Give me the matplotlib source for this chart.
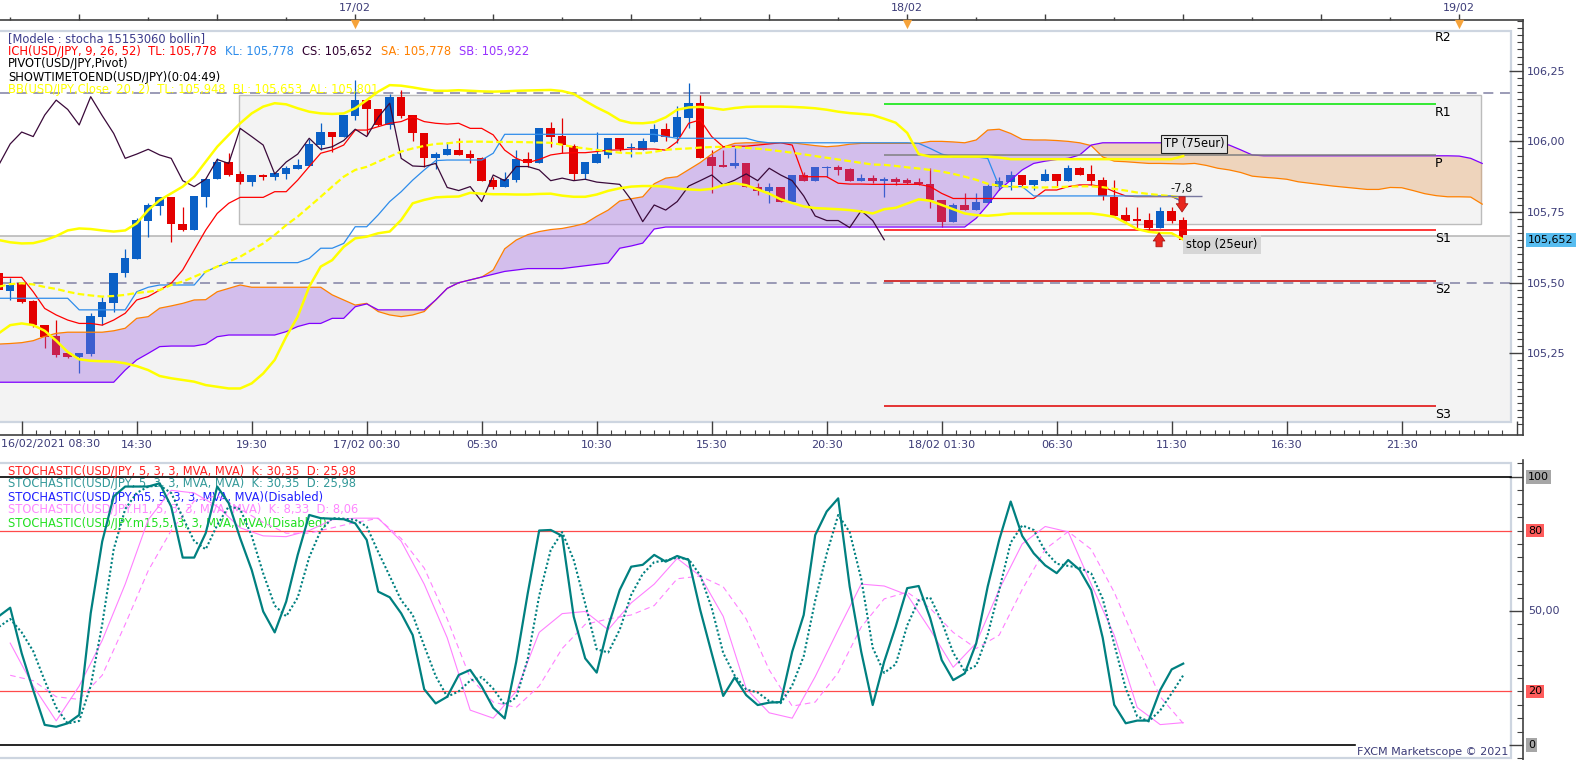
import matplotlib
matplotlib.use("Agg")
import matplotlib.pyplot as plt
from matplotlib.patches import Rectangle
from matplotlib.ticker import FixedLocator, FuncFormatter, NullFormatter
import numpy as np

plt.rcParams["font.family"] = ["DejaVu Sans"]

W, H = 1583, 760

# USD/JPY 30 min bars, 16/02/2021 08:30 -> 18/02/2021 12:00
opens = [105.536, 105.472, 105.498, 105.436, 105.350, 105.313, 105.250, 105.238, 105.247, 105.380,
         105.430, 105.533, 105.585, 105.720, 105.773, 105.803, 105.708, 105.686, 105.804, 105.866,
         105.928, 105.885, 105.857, 105.881, 105.875, 105.885, 105.903, 105.914, 105.988, 106.034,
         106.017, 106.091, 106.146, 106.115, 106.058, 106.158, 106.093, 106.028, 105.940, 105.952,
         105.970, 105.955, 105.941, 105.863, 105.840, 105.863, 105.936, 105.925, 106.046, 106.019,
         105.984, 105.885, 105.925, 105.952, 106.011, 105.975, 105.970, 105.999, 106.043, 106.017,
         106.081, 106.135, 105.944, 105.916, 105.913, 105.922, 105.840, 105.826, 105.837, 105.787,
         105.881, 105.861, 105.906, 105.911, 105.903, 105.861, 105.871, 105.861, 105.867, 105.863,
         105.857, 105.848, 105.793, 105.716, 105.775, 105.757, 105.783, 105.840, 105.857, 105.881,
         105.846, 105.861, 105.885, 105.861, 105.905, 105.885, 105.863, 105.804, 105.740, 105.724,
         105.722, 105.695, 105.755, 105.722]
highs = [105.540, 105.516, 105.500, 105.439, 105.350, 105.368, 105.256, 105.253, 105.392, 105.451,
         105.536, 105.619, 105.730, 105.781, 105.804, 105.803, 105.769, 105.807, 105.869, 105.940,
         105.960, 105.896, 105.880, 105.885, 105.889, 105.913, 105.936, 106.007, 106.066, 106.034,
         106.093, 106.217, 106.146, 106.115, 106.168, 106.182, 106.093, 106.028, 105.964, 105.999,
         106.011, 105.970, 105.945, 105.873, 105.893, 105.970, 105.964, 106.046, 106.070, 106.082,
         105.991, 105.927, 106.034, 106.011, 106.011, 105.995, 106.011, 106.061, 106.064, 106.125,
         106.208, 106.164, 105.970, 105.970, 105.975, 105.922, 105.852, 105.852, 105.837, 105.881,
         105.893, 105.911, 105.913, 105.916, 105.906, 105.885, 105.881, 105.873, 105.873, 105.869,
         105.869, 105.905, 105.793, 105.781, 105.816, 105.816, 105.849, 105.873, 105.895, 105.881,
         105.863, 105.902, 105.885, 105.916, 105.911, 105.916, 105.873, 105.863, 105.767, 105.767,
         105.748, 105.767, 105.769, 105.734]
lows = [105.470, 105.439, 105.427, 105.345, 105.268, 105.238, 105.233, 105.179, 105.242, 105.350,
        105.398, 105.521, 105.585, 105.663, 105.740, 105.645, 105.684, 105.686, 105.767, 105.866,
        105.878, 105.849, 105.842, 105.863, 105.863, 105.867, 105.903, 105.914, 105.970, 105.964,
        106.017, 106.076, 106.023, 106.054, 106.044, 106.081, 106.000, 105.911, 105.901, 105.952,
        105.952, 105.925, 105.861, 105.831, 105.840, 105.857, 105.911, 105.925, 105.979, 105.958,
        105.863, 105.866, 105.925, 105.940, 105.967, 105.944, 105.970, 105.999, 106.003, 105.995,
        106.046, 105.940, 105.819, 105.911, 105.905, 105.837, 105.810, 105.781, 105.787, 105.781,
        105.861, 105.861, 105.875, 105.881, 105.861, 105.861, 105.852, 105.802, 105.847, 105.849,
        105.846, 105.763, 105.698, 105.716, 105.757, 105.757, 105.783, 105.828, 105.828, 105.840,
        105.828, 105.861, 105.842, 105.861, 105.881, 105.846, 105.793, 105.736, 105.720, 105.686,
        105.686, 105.695, 105.712, 105.652]
closes = [105.474, 105.492, 105.433, 105.350, 105.309, 105.244, 105.238, 105.253, 105.382, 105.433,
          105.536, 105.586, 105.722, 105.775, 105.803, 105.707, 105.687, 105.807, 105.867, 105.928,
          105.881, 105.856, 105.880, 105.873, 105.887, 105.906, 105.916, 105.991, 106.033, 106.017,
          106.093, 106.146, 106.113, 106.058, 106.158, 106.091, 106.028, 105.940, 105.955, 105.972,
          105.952, 105.940, 105.861, 105.840, 105.866, 105.936, 105.922, 106.046, 106.017, 105.987,
          105.885, 105.927, 105.955, 106.011, 105.972, 105.981, 106.003, 106.043, 106.017, 106.085,
          106.135, 105.940, 105.913, 105.911, 105.922, 105.837, 105.826, 105.840, 105.787, 105.881,
          105.861, 105.911, 105.911, 105.899, 105.861, 105.870, 105.861, 105.866, 105.856, 105.852,
          105.848, 105.793, 105.716, 105.775, 105.757, 105.787, 105.842, 105.861, 105.881, 105.846,
          105.863, 105.885, 105.861, 105.905, 105.881, 105.861, 105.807, 105.736, 105.720, 105.720,
          105.695, 105.755, 105.720, 105.652]

# Ichimoku (9, 26, 52)
tenkan = [105.519, 105.519, 105.519, 105.468, 105.409, 105.386, 105.368, 105.356, 105.356, 105.350,
          105.368, 105.392, 105.439, 105.451, 105.474, 105.498, 105.545, 105.616, 105.686, 105.745,
          105.781, 105.802, 105.802, 105.802, 105.822, 105.822, 105.863, 105.911, 105.958, 105.969,
          105.987, 106.040, 106.040, 106.052, 106.064, 106.070, 106.087, 106.070, 106.064, 106.061,
          106.064, 106.046, 106.046, 106.023, 105.969, 105.940, 105.925, 105.936, 105.952, 105.958,
          105.960, 105.960, 105.964, 105.969, 105.970, 105.973, 105.973, 105.973, 105.969, 105.999,
          106.064, 106.076, 106.017, 105.981, 105.983, 105.983, 105.987, 105.991, 105.995, 105.987,
          105.875, 105.875, 105.875, 105.852, 105.849, 105.849, 105.848, 105.848, 105.848, 105.848,
          105.848, 105.840, 105.816, 105.798, 105.798, 105.798, 105.798, 105.798, 105.798, 105.798,
          105.798, 105.828, 105.828, 105.840, 105.846, 105.846, 105.840, 105.822, 105.807, 105.805,
          105.805, 105.805, 105.805, 105.786]
kijun = ([105.445] * 7 + [105.404] * 5 + [105.468, 105.484] + [105.492] * 4 + [105.539, 105.557]
         + [105.571] * 7
         + [105.586, 105.622, 105.622, 105.639, 105.698, 105.698, 105.740, 105.787, 105.822, 105.863,
            105.899, 105.932]
         + [105.934] * 4 + [105.958] + [106.025] * 14 + [106.017] + [106.011] * 7 + [106.000]
         + [105.995] * 13 + [105.993, 105.975, 105.955, 105.945, 105.945, 105.945, 105.940]
         + [105.840] * 3 + [105.807] * 13 + [105.785])
senkou_a = [105.283, 105.285, 105.288, 105.295, 105.310, 105.321, 105.325, 105.325, 105.325, 105.325,
            105.330, 105.339, 105.374, 105.380, 105.410, 105.418, 105.427, 105.439, 105.440, 105.468,
            105.480, 105.492, 105.484, 105.484, 105.484, 105.484, 105.484, 105.484, 105.484, 105.457,
            105.439, 105.421, 105.427, 105.398, 105.386, 105.380, 105.386, 105.398, 105.439, 105.480,
            105.500, 105.510, 105.520, 105.545, 105.620, 105.651, 105.670, 105.681, 105.688, 105.692,
            105.700, 105.710, 105.735, 105.757, 105.789, 105.797, 105.804, 105.850, 105.870, 105.875,
            105.900, 105.925, 105.955, 105.980, 105.993, 105.995, 105.995, 105.995, 105.995, 105.995,
            105.990, 105.985, 105.981, 105.984, 105.990, 105.993, 105.993, 105.993, 105.993, 105.993,
            105.993, 106.000, 106.000, 105.998, 105.995, 106.005, 106.040, 106.043, 106.028, 106.007,
            106.005, 106.005, 106.003, 106.000, 105.995, 105.985, 105.945, 105.930, 105.928, 105.925,
            105.922, 105.922, 105.921, 105.920, 105.922, 105.915, 105.905, 105.899, 105.890, 105.877,
            105.873, 105.870, 105.866, 105.857, 105.852, 105.847, 105.842, 105.838, 105.834, 105.830,
            105.830, 105.837, 105.836, 105.826, 105.815, 105.808, 105.804, 105.804, 105.803, 105.778]
senkou_b = ([105.148] * 11
            + [105.191, 105.227, 105.250, 105.274, 105.276, 105.276, 105.276, 105.283, 105.309]
            + [105.315] * 5 + [105.327, 105.345, 105.356, 105.356, 105.374]
            + [105.374, 105.415, 105.425, 105.404, 105.404, 105.404, 105.404, 105.404, 105.439, 105.480]
            + [105.500, 105.510, 105.520, 105.530, 105.540, 105.545, 105.550, 105.550, 105.550, 105.550]
            + [105.555, 105.560, 105.565, 105.570, 105.622, 105.630, 105.640, 105.690, 105.697, 105.697]
            + [105.697] * 25
            + [105.728, 105.775, 105.828, 105.863, 105.899]
            + [105.922, 105.930, 105.936, 105.940, 105.952, 105.987, 105.995, 105.995, 105.995, 105.995]
            + [105.995] * 7 + [105.987, 105.970, 105.952]
            + [105.949] * 17 + [105.948, 105.940, 105.922])

# Bollinger (20, 2)
bb_upper = [105.651, 105.643, 105.639, 105.640, 105.650, 105.665, 105.685, 105.692, 105.690, 105.685,
            105.681, 105.685, 105.710, 105.757, 105.792, 105.816, 105.840, 105.875, 105.928, 105.981,
            106.023, 106.064, 106.099, 106.123, 106.135, 106.131, 106.117, 106.105, 106.099, 106.097,
            106.099, 106.117, 106.146, 106.176, 106.199, 106.197, 106.191, 106.184, 106.179, 106.179,
            106.181, 106.179, 106.177, 106.176, 106.177, 106.179, 106.180, 106.181, 106.182, 106.178,
            106.168, 106.143, 106.120, 106.100, 106.075, 106.065, 106.064, 106.068, 106.085, 106.112,
            106.120, 106.122, 106.118, 106.112, 106.118, 106.122, 106.123, 106.123, 106.123, 106.122,
            106.120, 106.117, 106.112, 106.105, 106.100, 106.097, 106.093, 106.080, 106.066, 106.030,
            105.955, 105.946, 105.946, 105.946, 105.946, 105.946, 105.946, 105.943, 105.937, 105.937,
            105.937, 105.937, 105.937, 105.937, 105.937, 105.937, 105.937, 105.937, 105.937, 105.937,
            105.937, 105.937, 105.937, 105.948]
bb_mid = [105.486, 105.495, 105.498, 105.494, 105.485, 105.478, 105.468, 105.460, 105.455, 105.451,
          105.453, 105.457, 105.464, 105.468, 105.474, 105.492, 105.504, 105.521, 105.539, 105.557,
          105.575, 105.592, 105.616, 105.639, 105.669, 105.704, 105.734, 105.769, 105.804, 105.840,
          105.875, 105.899, 105.910, 105.928, 105.946, 105.964, 105.975, 105.984, 105.991, 105.993,
          105.998, 105.999, 105.999, 105.998, 105.998, 105.998, 105.997, 105.996, 105.995, 105.988,
          105.980, 105.975, 105.970, 105.965, 105.960, 105.958, 105.958, 105.963, 105.970, 105.973,
          105.975, 105.978, 105.980, 105.981, 105.980, 105.977, 105.974, 105.970, 105.965, 105.960,
          105.954, 105.948, 105.942, 105.936, 105.930, 105.924, 105.918, 105.917, 105.913, 105.908,
          105.904, 105.899, 105.893, 105.885, 105.875, 105.864, 105.850, 105.843, 105.840, 105.838,
          105.837, 105.837, 105.838, 105.840, 105.841, 105.841, 105.838, 105.832, 105.826, 105.819,
          105.814, 105.810, 105.806, 105.801]
bb_lower = [105.321, 105.350, 105.356, 105.350, 105.330, 105.295, 105.255, 105.229, 105.224, 105.222,
            105.221, 105.215, 105.205, 105.191, 105.170, 105.162, 105.156, 105.150, 105.138, 105.132,
            105.126, 105.126, 105.144, 105.179, 105.227, 105.309, 105.380, 105.486, 105.557, 105.580,
            105.627, 105.657, 105.663, 105.675, 105.681, 105.722, 105.781, 105.793, 105.802, 105.804,
            105.805, 105.818, 105.815, 105.813, 105.813, 105.812, 105.812, 105.814, 105.815, 105.808,
            105.804, 105.804, 105.812, 105.825, 105.834, 105.840, 105.842, 105.842, 105.840, 105.833,
            105.830, 105.828, 105.832, 105.845, 105.852, 105.845, 105.830, 105.815, 105.795, 105.782,
            105.770, 105.764, 105.762, 105.760, 105.757, 105.752, 105.745, 105.760, 105.765, 105.780,
            105.795, 105.790, 105.775, 105.760, 105.745, 105.739, 105.737, 105.740, 105.745, 105.745,
            105.745, 105.745, 105.745, 105.745, 105.745, 105.745, 105.740, 105.733, 105.712, 105.690,
            105.680, 105.676, 105.675, 105.653]

# Stochastic 5,3,3 on m30 (K solid, D dotted)
stoch_k = [48.0, 51.2, 34.2, 20.5, 7.5, 6.8, 8.1, 11.2, 49.1, 75.9,
           92.7, 96.4, 96.4, 96.4, 97.6, 88.9, 69.9, 69.9, 79.0, 96.4,
           90.2, 77.1, 65.3, 49.8, 42.0, 53.5, 70.9, 85.8, 84.6, 84.4,
           84.2, 82.7, 76.5, 57.2, 55.1, 49.1, 41.0, 20.8, 15.5, 18.0,
           26.1, 28.0, 21.8, 13.9, 9.9, 31.0, 56.5, 80.0, 80.2, 78.0,
           47.9, 32.3, 27.0, 44.2, 57.8, 66.5, 67.2, 70.9, 68.4, 70.5,
           69.0, 50.4, 34.2, 18.3, 25.2, 18.6, 14.9, 15.8, 16.0, 34.8,
           48.5, 78.3, 87.1, 92.0, 59.1, 34.8, 14.9, 31.1, 44.2, 58.5,
           59.3, 47.3, 31.7, 24.2, 26.7, 37.9, 59.1, 76.5, 90.8, 78.0,
           71.5, 67.0, 64.1, 69.0, 65.3, 57.8, 40.0, 15.0, 8.1, 9.1,
           9.1, 20.5, 28.2, 30.35]
stoch_d = [44.0, 47.0, 42.0, 35.0, 24.0, 14.0, 8.0, 9.0, 22.0, 45.0,
           73.0, 88.0, 94.0, 96.4, 96.8, 94.0, 85.0, 76.0, 73.0, 82.0,
           89.0, 88.0, 78.0, 64.0, 52.0, 48.0, 55.0, 70.0, 80.0, 84.6,
           84.4, 84.0, 81.5, 72.0, 63.0, 54.0, 48.5, 37.0, 25.7, 18.0,
           20.0, 24.0, 25.3, 21.0, 15.0, 17.7, 32.0, 55.7, 72.7, 79.4,
           69.0, 52.7, 35.7, 34.5, 43.0, 56.0, 63.8, 68.2, 68.8, 69.9,
           69.3, 63.3, 51.2, 34.3, 25.9, 20.7, 19.6, 16.4, 15.6, 22.2,
           33.1, 53.9, 71.3, 85.8, 79.4, 62.0, 36.3, 26.9, 30.1, 44.6,
           54.0, 55.0, 46.1, 34.4, 27.5, 29.6, 41.2, 57.8, 75.5, 81.9,
           80.2, 72.3, 67.6, 66.8, 66.1, 64.0, 54.5, 37.7, 21.1, 10.7,
           8.8, 12.9, 19.3, 25.98]
# Stochastic on H1, one value per hour
h1_k = [38, 22, 9, 22, 39, 60, 84, 95, 94, 89,
        81, 78, 77.7, 80, 84, 84.6, 84.6, 76, 60, 40,
        13, 10, 20, 42, 49, 49.8, 43, 53, 60, 69.6,
        63, 48, 21, 12, 10, 25.5, 43, 60, 59.3, 56,
        43, 29, 38, 58, 75, 81.5, 79.5, 60, 41, 14,
        7.6, 8.33]
h1_d = [26, 24, 18, 17, 26, 45, 65, 80, 91, 93,
        88, 83, 79, 79, 81, 83, 84.5, 77, 66, 47,
        25, 16, 14, 22, 36, 45, 47, 48.5, 52, 62,
        63, 59, 47, 28, 14.5, 16, 27, 44, 54.5, 57,
        51, 42, 36, 41, 58, 73, 79.6, 73, 57, 37,
        18, 8.06]

# pivot levels for 18/02
pivot_names = ["R2", "R1", "P", "S1", "S2", "S3"]
pivot_levels = [106.396, 106.131, 105.951, 105.686, 105.506, 105.064]
pivot_colors = ["#00e600", "#00e600", "#808080", "#ff0000", "#c80000", "#e00000"]

# time axis
bottom_tick_labels = ["", "14:30", "19:30", "17/02 00:30", "05:30", "10:30", "15:30", "20:30",
                      "18/02 01:30", "06:30", "11:30", "16:30", "21:30", ""]
first_bar_label = "16/02/2021 08:30"
day_labels = ["17/02", "18/02", "19/02"]
day_bars = [31, 79, 127]

current_price = 105.652
trade_entry = 105.807

# ---------------- layout helpers (pixel geometry of the screenshot) ----------------
BAR_PX, BAR0_PX = 11.5, -1.3


def kx(px):
    return (px - BAR0_PX) / BAR_PX


def py(y):
    return 106.25 - (y - 70.7) / 282.7


fig = plt.figure(figsize=(W / 100, H / 100), dpi=100)
fig.patch.set_facecolor("white")


def add_px_axes(x0, y0, x1, y1):
    return fig.add_axes([x0 / W, 1 - y1 / H, (x1 - x0) / W, (y1 - y0) / H])


AX_R = 1523
FRAME_R = 1510.7
AXIS_COL = "#404040"
LABEL_COL = "#3c3c78"
FS = 8.3

# ---------------- price panel ----------------
ax = add_px_axes(0, 20, AX_R, 435)
ax.set_xlim(kx(0), kx(AX_R))
ax.set_ylim(py(435), py(20))
ax.spines["left"].set_visible(False)
for s in ["top", "right", "bottom"]:
    ax.spines[s].set_color(AXIS_COL)
    ax.spines[s].set_linewidth(1.2)

ax.add_patch(Rectangle((-0.01, (435 - 422) / 415), FRAME_R / AX_R + 0.01, (422 - 31) / 415,
                       transform=ax.transAxes, fill=False, ec="#cdd5e0", lw=1.6, zorder=1))
ax.add_patch(Rectangle((kx(-5), py(422)), kx(FRAME_R) - kx(-5), 105.665 - py(422),
                       fc="#f3f3f3", ec="none", zorder=0.5))
ax.add_patch(Rectangle((20.9, 105.707), 108.0, 106.165 - 105.707,
                       fc="#f3f3f3", ec="#bcbcbc", lw=1.0, zorder=0.6))
fx = FRAME_R / AX_R
ax.axhline(105.665, xmax=fx, color="#b4b4b4", lw=1.1, zorder=0.8)
ax.axhline(106.17, xmax=fx, color="#8a8aaa", lw=1.2, ls=(0, (6, 4)), zorder=0.8)
ax.axhline(105.50, xmax=fx, color="#8a8aaa", lw=1.2, ls=(0, (6, 4)), zorder=0.8)

bars = np.arange(len(closes))
o, hgh, low, c = map(np.array, (opens, highs, lows, closes))
cols = np.where(c >= o, "#0a60c6", "#e30000")
ax.vlines(bars, low, hgh, colors=cols, lw=0.9, zorder=3)
ax.bar(bars, np.maximum(np.abs(c - o), 0.004), bottom=np.minimum(o, c), width=0.74,
       color=cols, lw=0, zorder=3)

cx = np.arange(len(senkou_a))
sa, sb = np.array(senkou_a), np.array(senkou_b)
ax.fill_between(cx, sa, sb, where=sa >= sb, interpolate=True, color="#9a5be0", alpha=0.35, lw=0, zorder=4)
ax.fill_between(cx, sa, sb, where=sa < sb, interpolate=True, color="#e59b56", alpha=0.35, lw=0, zorder=4)
ax.plot(cx, sa, color="#ff8000", lw=0.9, zorder=5)
ax.plot(cx, sb, color="#8000ff", lw=0.9, zorder=5)
ax.plot(bars, tenkan, color="#ff0000", lw=0.9, zorder=5)
ax.plot(bars, kijun, color="#2d8ceb", lw=0.9, zorder=5)
ax.plot(bars[:-26], closes[26:], color="#3a0a3a", lw=0.9, zorder=5)  # chikou span

ax.plot(bars, bb_upper, color="#ffff00", lw=1.8, zorder=6)
ax.plot(bars, bb_lower, color="#ffff00", lw=1.8, zorder=6)
ax.plot(bars, bb_mid, color="#ffff00", lw=1.6, ls=(0, (3, 1.5)), zorder=6)

# pivots
for name, lvl, col in zip(pivot_names, pivot_levels, pivot_colors):
    if lvl < py(31):
        ax.hlines(lvl, 77, 125, colors=col, lw=1.1, zorder=5)
    ax.text(kx(1435), lvl - 0.007, name, fontsize=9, color="black", va="top", ha="left", zorder=7)

# open trade
ax.hlines(trade_entry, kx(1133), kx(1202), colors="#7878a0", lw=1.0, zorder=7)
ax.text(kx(1182), trade_entry + 0.004, "-7,8", fontsize=FS, ha="center", va="bottom", color="#202020", zorder=8)
arrow = dict(arrowstyle="simple,head_length=0.6,head_width=0.85,tail_width=0.45",
             mutation_scale=10, fc="#e8261e", ec="#a01010", lw=0.5, shrinkA=0, shrinkB=0)
ax.annotate("", xy=(102.9, 105.750), xytext=(102.9, 105.804), arrowprops=arrow, zorder=8)
ax.annotate("", xy=(100.9, 105.677), xytext=(100.9, 105.627), arrowprops=arrow, zorder=8)
ax.text(kx(1194), py(144), "TP (75eur)", fontsize=FS, ha="center", va="center", zorder=8,
        bbox=dict(boxstyle="square,pad=0.25", fc="#e4e4e4", ec="#202020", lw=0.8))
ax.text(kx(1222), py(244.5), "stop (25eur)", fontsize=FS, ha="center", va="center", zorder=8,
        bbox=dict(boxstyle="square,pad=0.25", fc="#d6d6d6", ec="none"))

# right price scale
ax.yaxis.tick_right()
ax.yaxis.set_major_locator(FixedLocator([105.25, 105.50, 105.75, 106.00, 106.25]))
ax.yaxis.set_minor_locator(FixedLocator(np.arange(105.0, 106.43, 0.025)))
ax.yaxis.set_major_formatter(FuncFormatter(lambda v, p: f"{v:.2f}".replace(".", ",")))
ax.tick_params(axis="y", which="major", direction="in", length=10, width=1, color=AXIS_COL,
               labelsize=8, labelcolor=LABEL_COL, pad=2.5)
ax.tick_params(axis="y", which="minor", direction="in", length=4, width=0.8, color=AXIS_COL)
ax.text(1528 / AX_R, current_price, "105,652", transform=ax.get_yaxis_transform(), fontsize=8,
        va="center", ha="left", color="black",
        bbox=dict(boxstyle="square,pad=0.2", fc="#58bdf0", ec="none"), clip_on=False)

# bottom time scale
ax.xaxis.set_major_locator(FixedLocator(np.arange(2, 133, 10)))
ax.xaxis.set_minor_locator(FixedLocator(np.arange(2, 133, 1.25)))
ax.set_xticklabels(bottom_tick_labels)
ax.tick_params(axis="x", which="major", direction="in", length=10, width=1, color=AXIS_COL,
               labelsize=8, labelcolor=LABEL_COL, pad=3.5)
ax.tick_params(axis="x", which="minor", direction="in", length=3.5, width=0.8, color=AXIS_COL)
ax.text(kx(1), -(444 - 435) / 415, first_bar_label, transform=ax.get_xaxis_transform(),
        fontsize=8, color=LABEL_COL, ha="left", va="center")

# top date scale
top = ax.secondary_xaxis("top")
top.set_xticks(np.arange(7, 133, 12))
top.set_xticks(np.arange(1, 133, 12), minor=True)
top.xaxis.set_major_formatter(NullFormatter())
top.tick_params(which="major", direction="out", length=4, width=1, color=AXIS_COL)
top.tick_params(which="minor", direction="out", length=2.5, width=1, color=AXIS_COL)
top.spines["top"].set_visible(False)
for b, lab in zip(day_bars, day_labels):
    ax.text(b, (435 - 8) / 415, lab, transform=ax.get_xaxis_transform(), fontsize=8,
            color=LABEL_COL, ha="center", va="center", clip_on=False)
ax.scatter(day_bars, [(435 - 24) / 415] * len(day_bars), marker="v", s=45, color="#f6a33a",
           transform=ax.get_xaxis_transform(), zorder=9, clip_on=False, lw=0)

# legend lines of the price panel
lx = 8 / AX_R
ax.text(lx, (435 - 39) / 415, "[Modele : stocha 15153060 bollin]", transform=ax.transAxes,
        fontsize=FS, color="#3c3c8c", va="center", zorder=7)
prev = ax.text(lx, (435 - 52) / 415, "ICH(USD/JPY, 9, 26, 52)  TL: 105,778", transform=ax.transAxes,
               fontsize=FS, color="#ff0000", va="center", zorder=7)
for txt, col in [("KL: 105,778", "#2d8ceb"), ("CS: 105,652", "#300030"),
                 ("SA: 105,778", "#ff8000"), ("SB: 105,922", "#9933ff")]:
    prev = ax.annotate(txt, xy=(1, 0), xycoords=prev, xytext=(6, 0), textcoords="offset points",
                       fontsize=FS, color=col, va="bottom", ha="left", zorder=7)
ax.text(lx, (435 - 64) / 415, "PIVOT(USD/JPY,Pivot)", transform=ax.transAxes,
        fontsize=FS, color="black", va="center", zorder=7)
ax.text(lx, (435 - 77) / 415, "SHOWTIMETOEND(USD/JPY)(0:04:49)", transform=ax.transAxes,
        fontsize=FS, color="black", va="center", zorder=7)
ax.text(lx, (435 - 89) / 415, "BB(USD/JPY,Close, 20, 2)  TL: 105,948  BL: 105,653  AL: 105,801",
        transform=ax.transAxes, fontsize=FS, color="#ffff00", va="center", zorder=7)

# ---------------- stochastic panel ----------------
ax2 = add_px_axes(0, 460, AX_R, 760)
ax2.set_xlim(kx(0), kx(AX_R))
ax2.set_ylim(-5.6, 106.3)
for s in ["left", "top", "bottom"]:
    ax2.spines[s].set_visible(False)
ax2.spines["right"].set_color(AXIS_COL)
ax2.spines["right"].set_linewidth(1.2)
ax2.add_patch(Rectangle((-0.01, 2 / 300), fx + 0.01, (758 - 463) / 300, transform=ax2.transAxes,
                        fill=False, ec="#cdd5e0", lw=1.6, zorder=1))
ax2.set_xticks([])
ax2.yaxis.tick_right()
ax2.yaxis.set_major_locator(FixedLocator([0, 50, 100]))
ax2.yaxis.set_minor_locator(FixedLocator(np.arange(-5, 106, 5)))
ax2.yaxis.set_major_formatter(NullFormatter())
ax2.tick_params(axis="y", which="major", direction="in", length=10, width=1, color=AXIS_COL)
ax2.tick_params(axis="y", which="minor", direction="in", length=4, width=0.8, color=AXIS_COL)

ax2.axhline(100, xmax=fx, color="black", lw=1.2, zorder=2)
ax2.axhline(0, xmax=1355 / AX_R, color="black", lw=1.2, zorder=2)
ax2.axhline(80, xmax=fx, color="#ff4a4a", lw=0.9, zorder=2)
ax2.axhline(20, xmax=fx, color="#ff4a4a", lw=0.9, zorder=2)

h1_bars = np.arange(1, 2 * len(h1_k), 2)
ax2.plot(h1_bars, h1_k, color="#ff80ff", lw=0.8, zorder=4)
ax2.plot(h1_bars, h1_d, color="#ff80ff", lw=0.8, ls=(0, (5, 3.5)), zorder=4)
ax2.plot(bars, stoch_d, color="#008080", lw=1.5, ls=(0, (1, 1.1)), zorder=5)
ax2.plot(bars, stoch_k, color="#008080", lw=1.6, zorder=6)

ytr = ax2.get_yaxis_transform()
for v, lab, bg in [(100, "100", "#a6a6a6"), (80, "80", "#ff5c5c"), (20, "20", "#ff5c5c"), (0, "0", "#a6a6a6")]:
    ax2.text(1528 / AX_R, v, lab, transform=ytr, fontsize=8, color="black", va="center", ha="left",
             bbox=dict(boxstyle="square,pad=0.15", fc=bg, ec="none"), clip_on=False)
ax2.text(1528 / AX_R, 50, "50,00", transform=ytr, fontsize=8, color=LABEL_COL, va="center", ha="left",
         clip_on=False)

stoch_legend = [
    ("STOCHASTIC(USD/JPY, 5, 3, 3, MVA, MVA)  K: 30,35  D: 25,98", "#ff2020"),
    ("STOCHASTIC(USD/JPY, 5, 3, 3, MVA, MVA)  K: 30,35  D: 25,98", "#339999"),
    ("STOCHASTIC(USD/JPY.m5, 5, 3, 3, MVA, MVA)(Disabled)", "#2020ff"),
    ("STOCHASTIC(USD/JPY.H1, 5, 3, 3, MVA, MVA)  K: 8,33  D: 8,06", "#ff88ff"),
    ("STOCHASTIC(USD/JPY.m15,5, 3, 3, MVA, MVA)(Disabled)", "#22e022"),
]
for i, (txt, col) in enumerate(stoch_legend):
    ax2.text(lx, (760 - (471 + 13 * i)) / 300, txt, transform=ax2.transAxes, fontsize=FS,
             color=col, va="center", zorder=3)
ax2.text(1508 / AX_R, (760 - 752) / 300, "FXCM Marketscope \u00a9 2021", transform=ax2.transAxes,
         fontsize=8, color=LABEL_COL, ha="right", va="center")

fig.savefig("out.png", dpi=100)
